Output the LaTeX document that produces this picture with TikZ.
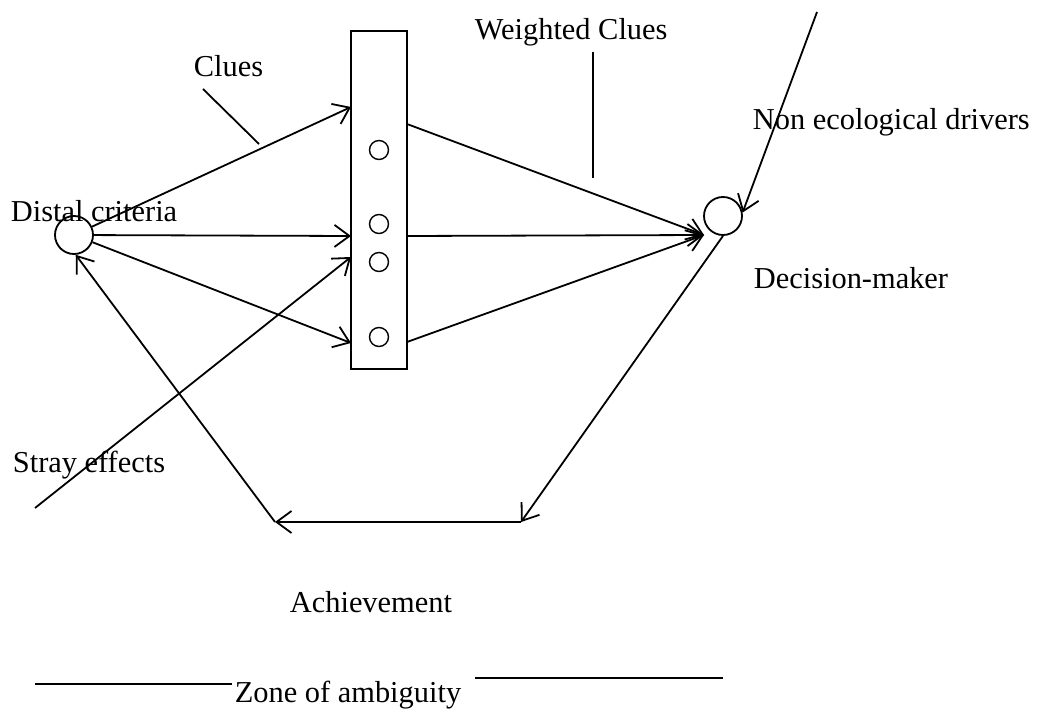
\documentclass[tikz,border=0pt]{standalone}
\usepackage{fontspec}
\setmainfont{Liberation Serif}
\usetikzlibrary{arrows.meta}
\begin{document}
\begin{tikzpicture}[x=1pt,y=-1pt,
  line width=1.8pt,
  tip/.style={-{Straight Barb[length=15pt,width=22pt]}},
  ring/.style={circle,draw,minimum size=38pt,inner sep=0pt},
  cue/.style={circle,draw,line width=1.4pt,minimum size=19pt,inner sep=0pt},
  lbl/.style={anchor=base west,inner sep=0pt,font=\fontsize{30.4pt}{36pt}\selectfont}]
\useasboundingbox[fill=white] (0,0) rectangle (1038,722);

% main actors
\node[ring] (distal) at (74,235) {};
\node[ring] (dm) at (723,216) {};

% the cue panel with its four cues
\node[draw,minimum width=56pt,minimum height=338pt,inner sep=0pt] (box) at (379,200) {};
\node[cue] (q1) at (379,150) {};
\node[cue] (q2) at (379,224) {};
\node[cue] (q3) at (379,262) {};
\node[cue] (q4) at (379,337) {};

% labels
\node[lbl] (clues) at (193,77) {Clues};
\node[lbl] (wclues) at (474,40) {Weighted Clues};
\node[lbl] (noneco) at (752,130) {Non ecological drivers};
\node[lbl] (distlbl) at (10,221) {Distal criteria};
\node[lbl] (dmlbl) at (753,288) {Decision-maker};
\node[lbl] (stray) at (12,472) {Stray effects};
\node[lbl] (ach) at (289,612) {Achievement};
\node[lbl] (zone) at (234,702) {Zone of ambiguity};

% points on the panel and elsewhere
\coordinate (in1) at (351,107);
\coordinate (in2) at (351,236);
\coordinate (in3) at (351,257);
\coordinate (in4) at (351,343);
\coordinate (out1) at (407,124);
\coordinate (out2) at (407,236);
\coordinate (out3) at (407,342);
\coordinate (dmin) at (704,235);
\coordinate (straysrc) at (35,508);
\coordinate (drvsrc) at (817,12);
\coordinate (achL) at (275,522);
\coordinate (achR) at (521,522);
\coordinate (cluesA) at (203,89);
\coordinate (cluesB) at (259,144);
\coordinate (wA) at (593,52);
\coordinate (wB) at (593,178);
\coordinate (zl1) at (35,684);
\coordinate (zl2) at (232,684);
\coordinate (zr1) at (475,678);
\coordinate (zr2) at (723,678);

% clues from the distal criteria to the panel
\draw[tip] (distal) -- (in1);
\draw[tip] (distal) -- (in2);
\draw[tip] (distal) -- (in4);
\draw[tip] (straysrc) -- (in3);

% weighted clues to the decision-maker
\draw[tip] (out1) -- (dmin);
\draw[tip] (out2) -- (dmin);
\draw[tip] (out3) -- (dmin);
\draw[tip] (drvsrc) -- (dm.10);

% achievement loop
\draw[tip] (dm.south) -- (achR);
\draw[tip] (achR) -- (achL);
\draw[tip] (achL) -- (distal.-85);

% label pointers
\draw (cluesA) -- (cluesB);
\draw (wA) -- (wB);

% zone of ambiguity rule
\draw (zl1) -- (zl2);
\draw (zr1) -- (zr2);
\end{tikzpicture}
\end{document}
